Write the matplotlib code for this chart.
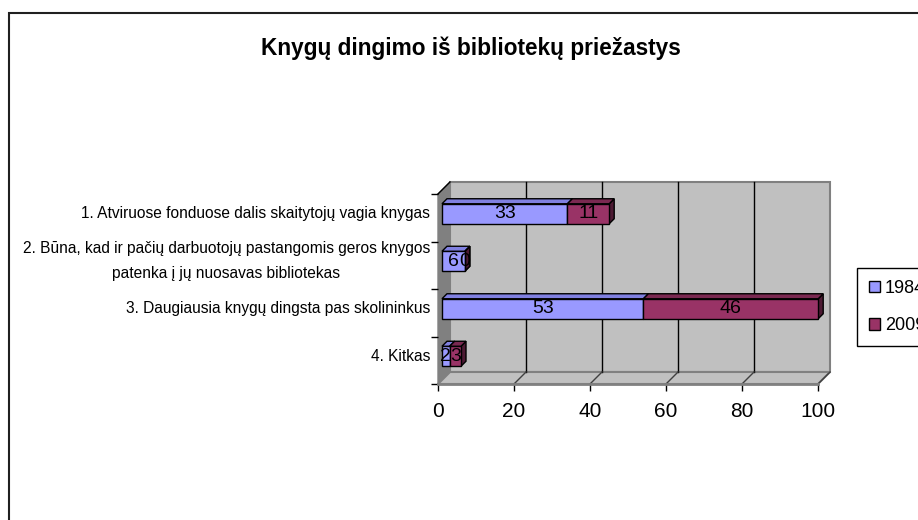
import numpy as np
import matplotlib.pyplot as plt
from matplotlib.patches import Polygon, Rectangle
from matplotlib.transforms import ScaledTranslation

plt.rcParams['font.family'] = ['Liberation Sans', 'DejaVu Sans']

title = 'Knygų dingimo iš bibliotekų priežastys'
categories = ['1. Atviruose fonduose dalis skaitytojų vagia knygas',
              '2. Būna, kad ir pačių darbuotojų pastangomis geros knygos\npatenka į jų nuosavas bibliotekas',
              '3. Daugiausia knygų dingsta pas skolininkus',
              '4. Kitkas']
series = ['1984', '2009']
v1984 = [33, 6, 53, 2]
v2009 = [11, 0, 46, 3]
xticks = [0, 20, 40, 60, 80, 100]

face = {'1984': '#9999FF', '2009': '#993366'}
top = {'1984': '#8080E0', '2009': '#7A2951'}
side = {'1984': '#6666B3', '2009': '#4D1A33'}

fig = plt.figure(figsize=(9.18, 5.2), dpi=100)
ax = fig.add_axes([438 / 918, 136 / 520, 380 / 918, 190 / 520])
ax.set_xlim(0, 100)
ax.set_ylim(len(categories), 0)
ax.set_facecolor('none')

# pixel depth -> data offset
ppx = ax.bbox.width / 100
ppy = ax.bbox.height / len(categories)
WALL = 12      # depth of the walls in px
Z0, Z1 = 4, 9  # front / back of the bars in px


def at(x, y, z):
    return (x + z / ppx, y - z / ppy)


def poly(pts, fc, ec, z, lw=1.0):
    ax.add_patch(Polygon(pts, closed=True, facecolor=fc, edgecolor=ec, lw=lw,
                         zorder=z, clip_on=False))


n = len(categories)
# walls and floor
poly([at(0, n, WALL), at(100, n, WALL), at(100, 0, WALL), at(0, 0, WALL)], '#C0C0C0', '#808080', 0.5, 1.5)
poly([at(0, 0, 0), at(0, 0, WALL), at(0, n, WALL), at(0, n, 0)], '#808080', '#808080', 0.6)
poly([at(0, n, 0), at(100, n, 0), at(100, n, WALL), at(0, n, WALL)], '#C0C0C0', '#808080', 0.6, 1.5)
ax.plot(*zip(at(0, 0, 0), at(0, 0, WALL)), color='black', lw=1, zorder=0.8, clip_on=False)
for x in xticks[1:-1]:
    ax.plot(*zip(at(x, 0, WALL), at(x, n, WALL)), color='black', lw=1, zorder=0.7, clip_on=False)
for x in xticks[1:]:
    ax.plot(*zip(at(x, n, 0), at(x, n, WALL)), color='#404040', lw=1, zorder=0.7, clip_on=False)

# bars
ypos = np.arange(n) + 0.5
bh = 20 / ppy
shift = ax.transData + ScaledTranslation(Z0 / 100, Z0 / 100, fig.dpi_scale_trans)
lefts = np.zeros(n)
handles = []
for name, vals in zip(series, [v1984, v2009]):
    bars = ax.barh(ypos, vals, left=lefts, height=bh, color=face[name], edgecolor='black',
                   lw=1, zorder=3, label=name)
    for b in bars:
        b.set_transform(shift)
        b.set_clip_on(False)
    handles.append(bars)
    for y, l, v in zip(ypos, lefts, vals):
        yt, yb = y - bh / 2, y + bh / 2
        r = l + v
        # top face
        poly([at(l, yt, Z0), at(r, yt, Z0), at(r, yt, Z1), at(l, yt, Z1)], top[name], 'black', 3)
        # right side
        poly([at(r, yt, Z0), at(r, yt, Z1), at(r, yb, Z1), at(r, yb, Z0)], side[name], 'black', 2.9)
        ax.text(l + v / 2, y, str(v), ha='center', va='center', fontsize=14,
                transform=shift, zorder=4)
    lefts = lefts + np.array(vals)

# category labels
lab = ax.transData + ScaledTranslation(-8 / 100, Z0 / 100, fig.dpi_scale_trans)
for y, c in zip(ypos, categories):
    ax.text(0, y, c, ha='right', va='center', multialignment='center', fontsize=11.2,
            linespacing=1.85, transform=lab)

ax.set_xticks(xticks)
ax.set_xticklabels([str(t) for t in xticks], fontsize=15)
ax.set_yticks(np.arange(n + 1))
ax.set_yticklabels([])
ax.tick_params(axis='x', length=5, width=1, color='black', pad=8)
ax.tick_params(axis='y', length=5, width=1, color='black')
for s in ['top', 'right', 'left']:
    ax.spines[s].set_visible(False)
ax.spines['bottom'].set_color('#808080')
ax.spines['bottom'].set_linewidth(2)

fig.text(471 / 918, 1 - 48 / 520, title, ha='center', va='center', fontsize=16.3, fontweight='bold')

leg = fig.legend(handles=handles, labels=series, loc='upper left',
                 bbox_to_anchor=(857 / 918, 1 - 268 / 520), borderaxespad=0, frameon=True,
                 fancybox=False, edgecolor='black', framealpha=1, handlelength=0.6,
                 handleheight=0.6, handletextpad=0.3, fontsize=13, borderpad=0.65,
                 labelspacing=1.15)
leg.get_frame().set_linewidth(1)

fig.add_artist(Rectangle((8.5 / 918, -0.5), 2, 0.5 + 1 - 12.5 / 520, transform=fig.transFigure,
                         fill=False, edgecolor='#202020', lw=1.5))

fig.savefig('out.png', dpi=100)
